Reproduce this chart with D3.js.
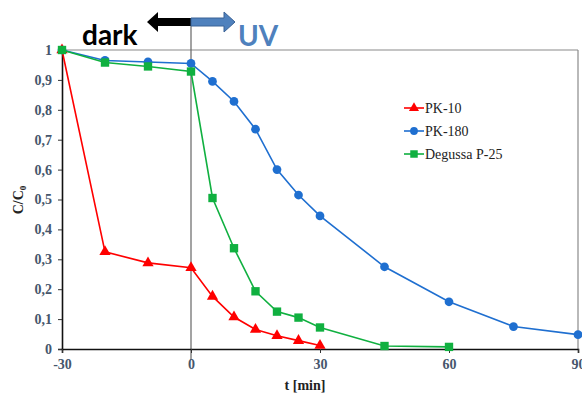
<!DOCTYPE html>
<html>
<head>
<meta charset="utf-8">
<script src="https://cdn.jsdelivr.net/npm/d3@7"></script>
<style>
  html, body { margin: 0; padding: 0; background: #fff; }
  svg { display: block; }
  .serif { font-family: 'Liberation Serif', 'DejaVu Serif', serif; }
</style>
</head>
<body>
<svg id="chart" width="582" height="394"></svg>
<script>
// Photocatalytic decay, C/C0 vs time (dark adsorption, then UV)
const timesShort = [-30, -20, -10, 0, 5, 10, 15, 20, 25, 30];
const timesPK180 = [-30, -20, -10, 0, 5, 10, 15, 20, 25, 30, 45, 60, 75, 90];
const timesP25 = [-30, -20, -10, 0, 5, 10, 15, 20, 25, 30, 45, 60];

const pk10 = [1, 0.325, 0.288, 0.272, 0.176, 0.107, 0.065, 0.044, 0.028, 0.012];
const pk180 = [1, 0.965, 0.96, 0.955, 0.895, 0.828, 0.735, 0.6, 0.515, 0.445, 0.275, 0.158, 0.075, 0.048];
const p25 = [1, 0.958, 0.945, 0.928, 0.505, 0.337, 0.193, 0.125, 0.105, 0.072, 0.01, 0.007];

const seriesNames = ["PK-10", "PK-180", "Degussa P-25"];
const xTicks = [-30, 0, 30, 60, 90];
const yTicks = [0, 0.1, 0.2, 0.3, 0.4, 0.5, 0.6, 0.7, 0.8, 0.9, 1];

const series = [
  { name: seriesNames[0], t: timesShort, v: pk10, color: "#ff0000", symbol: d3.symbolTriangle, size: 55 },
  { name: seriesNames[1], t: timesPK180, v: pk180, color: "#1f6fd0", symbol: d3.symbolCircle, size: 60 },
  { name: seriesNames[2], t: timesP25, v: p25, color: "#10b040", symbol: d3.symbolSquare, size: 70 }
];

const svg = d3.select("#chart");
const x = d3.scaleLinear().domain([-30, 90]).range([62, 578]);
const y = d3.scaleLinear().domain([0, 1]).range([349, 50]);

const tickColor = "#46566c";
const serif = "'Liberation Serif', 'DejaVu Serif', serif";

// Plot frame (top and right)
svg.append("line").attr("x1", x(-30)).attr("x2", x(90)).attr("y1", y(1)).attr("y2", y(1))
  .attr("stroke", "#8a8a8a").attr("stroke-width", 1.2);
svg.append("line").attr("x1", x(90)).attr("x2", x(90)).attr("y1", y(1)).attr("y2", y(0))
  .attr("stroke", "#8a8a8a").attr("stroke-width", 1.2);

// Divider at t = 0 between dark and UV stages
svg.append("line").attr("x1", x(0)).attr("x2", x(0)).attr("y1", 18).attr("y2", 360)
  .attr("stroke", "#666").attr("stroke-width", 1.2);

// Axes
const yAxis = d3.axisLeft(y).tickValues(yTicks).tickSize(4).tickPadding(6)
  .tickFormat(d => d === 0 || d === 1 ? String(d) : d3.format(".1f")(d).replace(".", ","));
const gy = svg.append("g").attr("transform", `translate(${x(-30)},0)`).call(yAxis);
const xAxis = d3.axisBottom(x).tickValues(xTicks).tickSize(4).tickPadding(6).tickFormat(d => String(d));
const gx = svg.append("g").attr("transform", `translate(0,${y(0)})`).call(xAxis);

[gx, gy].forEach(g => {
  g.attr("font-family", serif).attr("font-size", 14).attr("font-weight", "bold");
  g.select(".domain").attr("stroke", "#111").attr("stroke-width", 1.6);
  g.selectAll(".tick line").attr("stroke", "#333");
  g.selectAll(".tick text").attr("fill", tickColor).attr("class", "serif");
});

// Axis titles
svg.append("text").attr("x", 305).attr("y", 390).attr("text-anchor", "middle").attr("class", "serif")
  .attr("font-weight", "bold").attr("font-size", 14).attr("fill", "#222")
  .text("t [min]");
const yl = svg.append("text").attr("transform", "translate(23,200) rotate(-90)").attr("class", "serif")
  .attr("text-anchor", "middle").attr("font-weight", "bold")
  .attr("font-size", 14).attr("fill", "#222");
yl.append("tspan").text("C/C");
yl.append("tspan").attr("font-size", 9).attr("dy", 3).text("0");

// Lines and markers
const line = d3.line().x(d => x(d[0])).y(d => y(d[1]));
series.forEach(s => {
  const pts = s.t.map((t, i) => [t, s.v[i]]);
  svg.append("path").datum(pts).attr("d", line).attr("fill", "none")
    .attr("stroke", s.color).attr("stroke-width", 1.6);
  svg.append("g").selectAll("path").data(pts).join("path")
    .attr("transform", d => `translate(${x(d[0])},${y(d[1])})`)
    .attr("d", d3.symbol().type(s.symbol).size(s.size))
    .attr("fill", s.color);
});

// Legend
const legend = svg.append("g").attr("transform", "translate(404,108)");
series.forEach((s, i) => {
  const g = legend.append("g").attr("transform", `translate(0,${i * 23})`);
  g.append("line").attr("x1", 0).attr("x2", 20).attr("stroke", s.color).attr("stroke-width", 1.6);
  g.append("path").attr("transform", "translate(10,0)")
    .attr("d", d3.symbol().type(s.symbol).size(s.size * 0.8)).attr("fill", s.color);
  g.append("text").attr("x", 21).attr("y", 5).attr("class", "serif").attr("font-size", 14)
    .attr("fill", "#222").text(s.name);
});

// Stage annotation: dark ← | → UV
const ay = 22;
svg.append("path")
  .attr("d", `M${x(0)},${ay - 4} L158,${ay - 4} L158,${ay - 10} L147,${ay} L158,${ay + 10} L158,${ay + 4} L${x(0)},${ay + 4} Z`)
  .attr("fill", "#000");
svg.append("path")
  .attr("d", `M${x(0)},${ay - 4} L224,${ay - 4} L224,${ay - 10} L235,${ay} L224,${ay + 10} L224,${ay + 4} L${x(0)},${ay + 4} Z`)
  .attr("fill", "#4f81bd").attr("stroke", "#3a6296").attr("stroke-width", 1);
svg.append("text").attr("x", 82).attr("y", 45).attr("font-family", "Lato, 'Open Sans', sans-serif")
  .attr("font-weight", "bold").attr("font-size", 28).attr("fill", "#000").text("dark");
svg.append("text").attr("x", 238).attr("y", 46).attr("font-family", "Lato, 'Open Sans', sans-serif")
  .attr("font-weight", "bold").attr("font-size", 28).attr("fill", "#4f81bd").text("UV");
</script>
</body>
</html>
